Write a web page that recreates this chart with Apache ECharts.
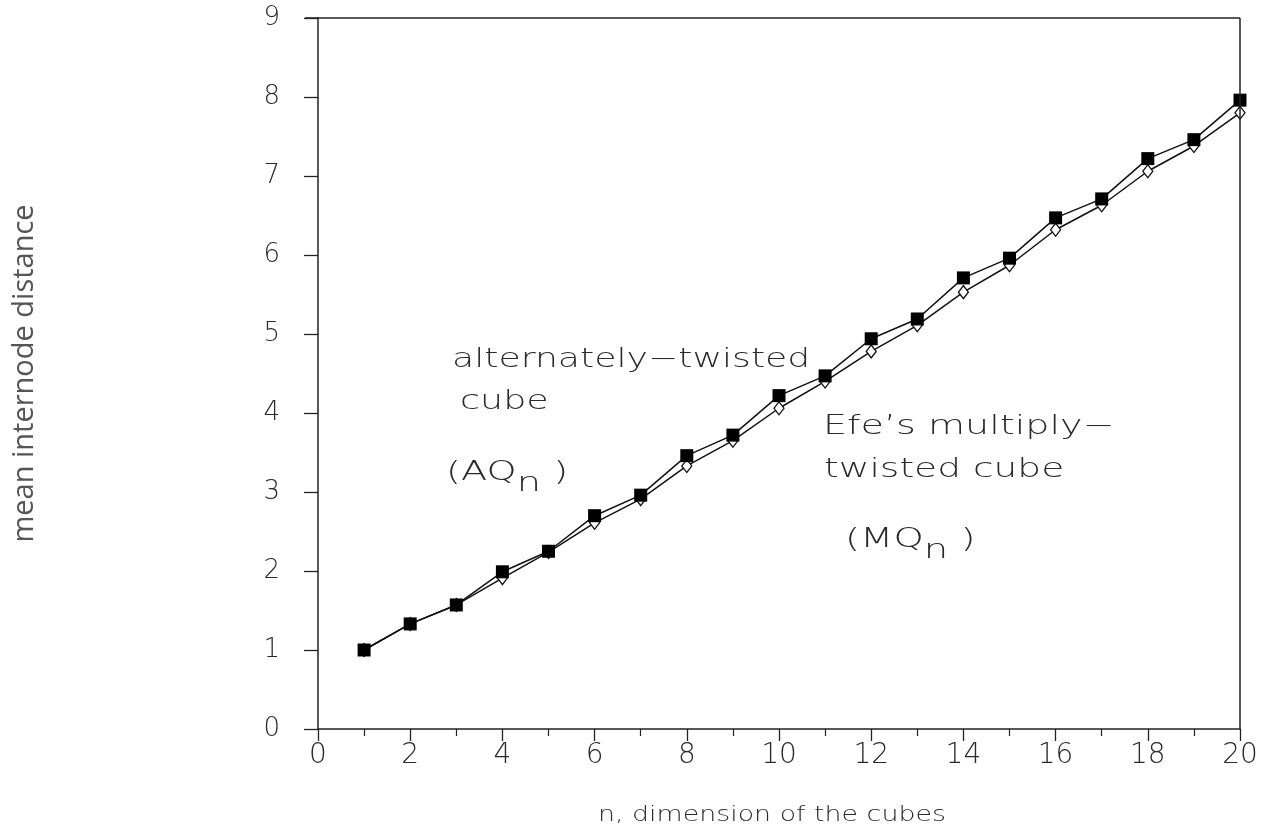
<!DOCTYPE html>
<html>
<head>
<meta charset="utf-8">
<script src="https://cdn.jsdelivr.net/npm/echarts@6/dist/echarts.min.js"></script>
<style>html,body{margin:0;padding:0;background:#fff}#c{width:1261px;height:831px}</style>
</head>
<body>
<div id="c"></div>
<script>
var dims = [1,2,3,4,5,6,7,8,9,10,11,12,13,14,15,16,17,18,19,20];
var aqValues = [1.0,1.33,1.57,1.99,2.25,2.70,2.96,3.46,3.72,4.22,4.47,4.94,5.19,5.71,5.96,6.47,6.71,7.22,7.46,7.96];
var mqValues = [1.0,1.33,1.57,1.91,2.24,2.61,2.91,3.33,3.65,4.06,4.40,4.78,5.11,5.53,5.87,6.32,6.63,7.06,7.38,7.80];
var xTicks = [0,2,4,6,8,10,12,14,16,18,20];
var yTicks = [0,1,2,3,4,5,6,7,8,9];

var font = 'DejaVu Sans';
var txt = '#2a2a2a';
var chart = echarts.init(document.getElementById('c'), null, {renderer:'canvas'});
function pairs(vals){ return dims.map(function(d,i){return [d, vals[i]];}); }
function label(x, y, s, sx, rich){
  var st = {text:s, font:'lighter 27px "DejaVu Sans"', fill:txt};
  if (rich) st.rich = {sub:{fontSize:27, fontFamily:font, fontWeight:'lighter', fill:txt, verticalAlign:'bottom', padding:[22,0,0,0]}};
  return {type:'text', x:x, y:y, scaleX:sx, scaleY:1, style:st};
}

chart.setOption({
  animation:false,
  backgroundColor:'#fff',
  grid:{left:318, right:21, top:18, bottom:102, show:false},
  xAxis:{
    type:'value', min:0, max:20, interval:2,
    axisLine:{show:true, onZero:false, lineStyle:{color:'#222', width:1.5}},
    axisTick:{show:true, inside:false, length:12, lineStyle:{color:'#222', width:1.3}},
    minorTick:{show:true, splitNumber:2, length:7, lineStyle:{color:'#222', width:1.2}},
    axisLabel:{fontFamily:font, fontSize:28, color:txt, margin:13, fontWeight:'lighter',
      formatter:function(v){return xTicks.indexOf(v)>=0 ? String(v) : '';}},
    splitLine:{show:false}
  },
  yAxis:{
    type:'value', min:0, max:9, interval:1,
    name:'mean internode distance', nameLocation:'middle', nameGap:279, nameRotate:90,
    nameTextStyle:{fontFamily:'Open Sans', fontSize:29, color:'#555'},
    axisLine:{show:true, lineStyle:{color:'#222', width:1.5}},
    axisTick:{show:true, inside:false, length:14, lineStyle:{color:'#222', width:1.3}},
    axisLabel:{fontFamily:font, fontSize:26, color:txt, margin:38, fontWeight:'lighter',
      formatter:function(v){return yTicks.indexOf(v)>=0 ? String(v) : '';}},
    splitLine:{show:false}
  },
  series:[
    {
      name:'MQn', type:'line', data:pairs(mqValues),
      symbol:'diamond', symbolSize:[10,13], showAllSymbol:true,
      lineStyle:{color:'#111', width:1.5},
      itemStyle:{color:'#fff', borderColor:'#111', borderWidth:1.3},
      z:2
    },
    {
      name:'AQn', type:'line', data:pairs(aqValues),
      symbol:'rect', symbolSize:13, showAllSymbol:true,
      lineStyle:{color:'#111', width:1.5},
      itemStyle:{color:'#000', borderColor:'#000', borderWidth:0},
      z:3
    }
  ],
  graphic:[
    {type:'line', shape:{x1:305,y1:18,x2:1240,y2:18}, style:{stroke:'#222', lineWidth:1.5}, z:10},
    {type:'line', shape:{x1:1240,y1:18,x2:1240,y2:729}, style:{stroke:'#222', lineWidth:1.5}, z:10},
    label(452, 346, 'alternately\u2212twisted', 1.34),
    label(460, 388, 'cube', 1.35),
    label(446, 448, '(AQ{sub|n} )', 1.42, true),
    label(823, 413, 'Efe\u2019s multiply\u2212', 1.41),
    label(824, 456, 'twisted cube', 1.39),
    label(845, 515, '(MQ{sub|n} )', 1.43, true),
    {type:'text', x:598, y:804, scaleX:1.22, scaleY:1,
      style:{text:'n, dimension of the cubes', font:'lighter 22px "DejaVu Sans"', fill:txt}}
  ]
});
</script>
</body>
</html>
